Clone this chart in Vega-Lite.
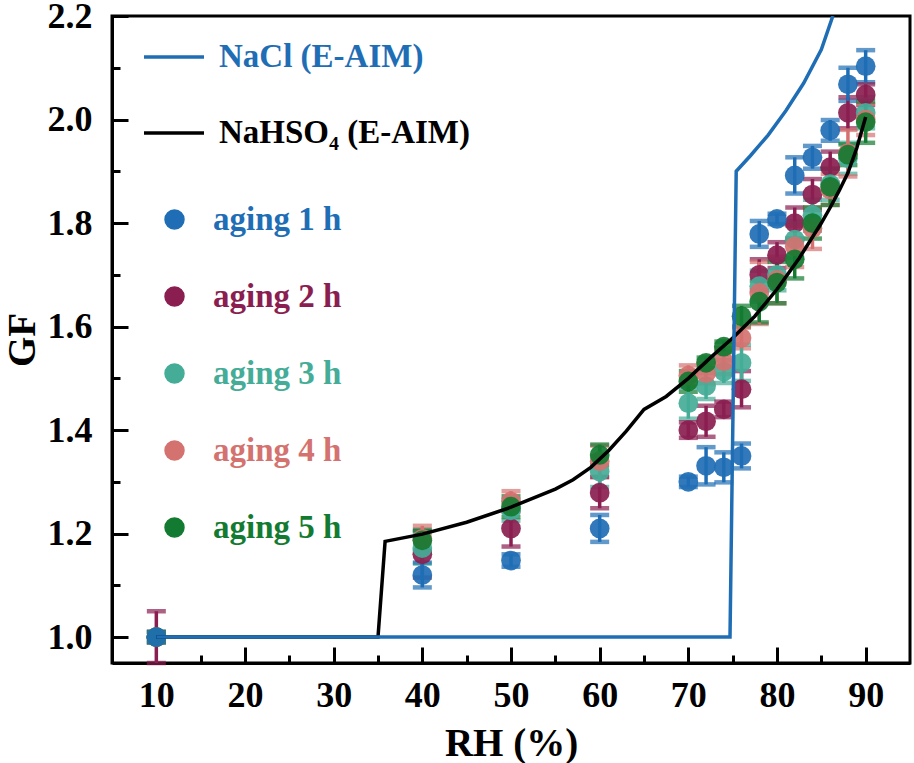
{
  "$schema": "https://vega.github.io/schema/vega-lite/v6.json",
  "width": 798,
  "height": 647,
  "autosize": {"type": "none"},
  "padding": {"left": 112, "top": 16, "right": 4, "bottom": 100},
  "config": {
    "font": "Liberation Serif",
    "view": {"stroke": "black", "strokeWidth": 3},
    "axis": {
      "grid": false,
      "domainColor": "black",
      "domainWidth": 3,
      "tickColor": "black",
      "tickWidth": 3,
      "labelFont": "Liberation Serif",
      "labelFontSize": 36,
      "labelFontWeight": "bold",
      "labelColor": "black",
      "labelOverlap": false,
      "labelFlush": false,
      "labelBound": false,
      "titleFont": "Liberation Serif",
      "titleFontSize": 39,
      "titleFontWeight": "bold",
      "titleColor": "black"
    },
    "legend": {
      "labelFont": "Liberation Serif",
      "labelFontSize": 33,
      "labelFontWeight": "bold",
      "labelLimit": 600,
      "padding": 0
    }
  },
  "datasets": {
    "pts": [
      {"series": "aging 2 h", "RH": 10, "GF": 1.0, "err": 0.05},
      {"series": "aging 2 h", "RH": 40, "GF": 1.16, "err": 0.045},
      {"series": "aging 2 h", "RH": 50, "GF": 1.21, "err": 0.035},
      {"series": "aging 2 h", "RH": 60, "GF": 1.279, "err": 0.03},
      {"series": "aging 2 h", "RH": 70, "GF": 1.40, "err": 0.015},
      {"series": "aging 2 h", "RH": 72, "GF": 1.417, "err": 0.03},
      {"series": "aging 2 h", "RH": 74, "GF": 1.44, "err": 0.015},
      {"series": "aging 2 h", "RH": 76, "GF": 1.479, "err": 0.035},
      {"series": "aging 2 h", "RH": 78, "GF": 1.70, "err": 0.03},
      {"series": "aging 2 h", "RH": 80, "GF": 1.738, "err": 0.025},
      {"series": "aging 2 h", "RH": 82, "GF": 1.80, "err": 0.03},
      {"series": "aging 2 h", "RH": 84, "GF": 1.855, "err": 0.03},
      {"series": "aging 2 h", "RH": 86, "GF": 1.908, "err": 0.03},
      {"series": "aging 2 h", "RH": 88, "GF": 2.013, "err": 0.03},
      {"series": "aging 2 h", "RH": 90, "GF": 2.048, "err": 0.02},
      {"series": "aging 3 h", "RH": 10, "GF": 1.0, "err": 0.01},
      {"series": "aging 3 h", "RH": 40, "GF": 1.172, "err": 0.03},
      {"series": "aging 3 h", "RH": 50, "GF": 1.245, "err": 0.02},
      {"series": "aging 3 h", "RH": 60, "GF": 1.32, "err": 0.03},
      {"series": "aging 3 h", "RH": 70, "GF": 1.452, "err": 0.03},
      {"series": "aging 3 h", "RH": 72, "GF": 1.485, "err": 0.025},
      {"series": "aging 3 h", "RH": 74, "GF": 1.513, "err": 0.022},
      {"series": "aging 3 h", "RH": 76, "GF": 1.53, "err": 0.035},
      {"series": "aging 3 h", "RH": 78, "GF": 1.678, "err": 0.03},
      {"series": "aging 3 h", "RH": 80, "GF": 1.70, "err": 0.03},
      {"series": "aging 3 h", "RH": 82, "GF": 1.768, "err": 0.035},
      {"series": "aging 3 h", "RH": 84, "GF": 1.815, "err": 0.03},
      {"series": "aging 3 h", "RH": 86, "GF": 1.875, "err": 0.03},
      {"series": "aging 3 h", "RH": 88, "GF": 1.925, "err": 0.03},
      {"series": "aging 3 h", "RH": 90, "GF": 2.013, "err": 0.03},
      {"series": "aging 4 h", "RH": 10, "GF": 1.0, "err": 0.01},
      {"series": "aging 4 h", "RH": 40, "GF": 1.19, "err": 0.025},
      {"series": "aging 4 h", "RH": 50, "GF": 1.262, "err": 0.02},
      {"series": "aging 4 h", "RH": 60, "GF": 1.34, "err": 0.03},
      {"series": "aging 4 h", "RH": 70, "GF": 1.505, "err": 0.02},
      {"series": "aging 4 h", "RH": 72, "GF": 1.51, "err": 0.02},
      {"series": "aging 4 h", "RH": 74, "GF": 1.533, "err": 0.025},
      {"series": "aging 4 h", "RH": 76, "GF": 1.578, "err": 0.02},
      {"series": "aging 4 h", "RH": 78, "GF": 1.665, "err": 0.06},
      {"series": "aging 4 h", "RH": 80, "GF": 1.69, "err": 0.045},
      {"series": "aging 4 h", "RH": 82, "GF": 1.755, "err": 0.04},
      {"series": "aging 4 h", "RH": 84, "GF": 1.79, "err": 0.04},
      {"series": "aging 4 h", "RH": 86, "GF": 1.865, "err": 0.03},
      {"series": "aging 4 h", "RH": 88, "GF": 1.935, "err": 0.045},
      {"series": "aging 4 h", "RH": 90, "GF": 2.0, "err": 0.03},
      {"series": "aging 5 h", "RH": 10, "GF": 1.0, "err": 0.01},
      {"series": "aging 5 h", "RH": 40, "GF": 1.187, "err": 0.02},
      {"series": "aging 5 h", "RH": 50, "GF": 1.252, "err": 0.02},
      {"series": "aging 5 h", "RH": 60, "GF": 1.352, "err": 0.02},
      {"series": "aging 5 h", "RH": 70, "GF": 1.494, "err": 0.02},
      {"series": "aging 5 h", "RH": 72, "GF": 1.53, "err": 0.01},
      {"series": "aging 5 h", "RH": 74, "GF": 1.561, "err": 0.01},
      {"series": "aging 5 h", "RH": 76, "GF": 1.62, "err": 0.02},
      {"series": "aging 5 h", "RH": 78, "GF": 1.648, "err": 0.04},
      {"series": "aging 5 h", "RH": 80, "GF": 1.685, "err": 0.04},
      {"series": "aging 5 h", "RH": 82, "GF": 1.73, "err": 0.037},
      {"series": "aging 5 h", "RH": 84, "GF": 1.80, "err": 0.03},
      {"series": "aging 5 h", "RH": 86, "GF": 1.87, "err": 0.035},
      {"series": "aging 5 h", "RH": 88, "GF": 1.932, "err": 0.02},
      {"series": "aging 5 h", "RH": 90, "GF": 1.995, "err": 0.04},
      {"series": "aging 1 h", "RH": 10, "GF": 1.0, "err": 0.01},
      {"series": "aging 1 h", "RH": 40, "GF": 1.12, "err": 0.024},
      {"series": "aging 1 h", "RH": 50, "GF": 1.148, "err": 0.012},
      {"series": "aging 1 h", "RH": 60, "GF": 1.21, "err": 0.026},
      {"series": "aging 1 h", "RH": 70, "GF": 1.30, "err": 0.01},
      {"series": "aging 1 h", "RH": 72, "GF": 1.331, "err": 0.036},
      {"series": "aging 1 h", "RH": 74, "GF": 1.328, "err": 0.029},
      {"series": "aging 1 h", "RH": 76, "GF": 1.35, "err": 0.024},
      {"series": "aging 1 h", "RH": 78, "GF": 1.779, "err": 0.025},
      {"series": "aging 1 h", "RH": 80, "GF": 1.808, "err": 0.01},
      {"series": "aging 1 h", "RH": 82, "GF": 1.892, "err": 0.035},
      {"series": "aging 1 h", "RH": 84, "GF": 1.927, "err": 0.022},
      {"series": "aging 1 h", "RH": 86, "GF": 1.979, "err": 0.02},
      {"series": "aging 1 h", "RH": 88, "GF": 2.068, "err": 0.032},
      {"series": "aging 1 h", "RH": 90, "GF": 2.103, "err": 0.031}
    ],
    "hso4": [
      {"model": "NaHSO₄ (E-AIM)", "RH": 10, "GF": 1.0},
      {"model": "NaHSO₄ (E-AIM)", "RH": 35, "GF": 1.0},
      {"model": "NaHSO₄ (E-AIM)", "RH": 35.8, "GF": 1.185},
      {"model": "NaHSO₄ (E-AIM)", "RH": 40, "GF": 1.199},
      {"model": "NaHSO₄ (E-AIM)", "RH": 45, "GF": 1.222},
      {"model": "NaHSO₄ (E-AIM)", "RH": 50, "GF": 1.251},
      {"model": "NaHSO₄ (E-AIM)", "RH": 55, "GF": 1.286},
      {"model": "NaHSO₄ (E-AIM)", "RH": 57, "GF": 1.304},
      {"model": "NaHSO₄ (E-AIM)", "RH": 59, "GF": 1.328},
      {"model": "NaHSO₄ (E-AIM)", "RH": 61, "GF": 1.36},
      {"model": "NaHSO₄ (E-AIM)", "RH": 63, "GF": 1.398},
      {"model": "NaHSO₄ (E-AIM)", "RH": 65, "GF": 1.44},
      {"model": "NaHSO₄ (E-AIM)", "RH": 67.5, "GF": 1.465},
      {"model": "NaHSO₄ (E-AIM)", "RH": 70, "GF": 1.50},
      {"model": "NaHSO₄ (E-AIM)", "RH": 72.5, "GF": 1.54},
      {"model": "NaHSO₄ (E-AIM)", "RH": 75, "GF": 1.578},
      {"model": "NaHSO₄ (E-AIM)", "RH": 77.5, "GF": 1.62},
      {"model": "NaHSO₄ (E-AIM)", "RH": 80, "GF": 1.672},
      {"model": "NaHSO₄ (E-AIM)", "RH": 82.5, "GF": 1.732},
      {"model": "NaHSO₄ (E-AIM)", "RH": 85, "GF": 1.80},
      {"model": "NaHSO₄ (E-AIM)", "RH": 86, "GF": 1.83},
      {"model": "NaHSO₄ (E-AIM)", "RH": 87, "GF": 1.862},
      {"model": "NaHSO₄ (E-AIM)", "RH": 88, "GF": 1.897},
      {"model": "NaHSO₄ (E-AIM)", "RH": 89, "GF": 1.945},
      {"model": "NaHSO₄ (E-AIM)", "RH": 90, "GF": 2.005}
    ],
    "nacl": [
      {"model": "NaCl (E-AIM)", "RH": 10, "GF": 1.0},
      {"model": "NaCl (E-AIM)", "RH": 74.7, "GF": 1.0},
      {"model": "NaCl (E-AIM)", "RH": 75.4, "GF": 1.9},
      {"model": "NaCl (E-AIM)", "RH": 77, "GF": 1.93},
      {"model": "NaCl (E-AIM)", "RH": 79, "GF": 1.97},
      {"model": "NaCl (E-AIM)", "RH": 81, "GF": 2.017},
      {"model": "NaCl (E-AIM)", "RH": 83, "GF": 2.07},
      {"model": "NaCl (E-AIM)", "RH": 85, "GF": 2.135},
      {"model": "NaCl (E-AIM)", "RH": 86.3, "GF": 2.2}
    ]
  },
  "encoding": {
    "x": {
      "field": "RH",
      "type": "quantitative",
      "scale": {"domain": [5, 95], "nice": false, "zero": false},
      "axis": {
        "title": "RH (%)",
        "values": [10, 15, 20, 25, 30, 35, 40, 45, 50, 55, 60, 65, 70, 75, 80, 85, 90],
        "labelExpr": "datum.value % 10 === 0 ? datum.label : ''",
        "tickSize": {"condition": {"test": "datum.value % 10 === 0", "value": -16}, "value": -8},
        "labelPadding": 31,
        "titlePadding": 3
      }
    },
    "y": {
      "field": "GF",
      "type": "quantitative",
      "scale": {"domain": [0.95, 2.2], "nice": false, "zero": false},
      "axis": {
        "title": "GF",
        "values": [1, 1.1, 1.2, 1.3, 1.4, 1.5, 1.6, 1.7, 1.8, 1.9, 2, 2.1, 2.2],
        "labelExpr": "abs(datum.value * 5 - round(datum.value * 5)) < 0.001 ? format(datum.value, '.1f') : ''",
        "tickSize": {"condition": {"test": "abs(datum.value * 5 - round(datum.value * 5)) < 0.001", "value": -16}, "value": -8},
        "labelPadding": 36,
        "titlePadding": 5
      }
    }
  },
  "layer": [
    {
      "data": {"name": "pts"},
      "mark": {"type": "errorbar", "thickness": 3.5, "ticks": {"size": 19, "thickness": 4.5}},
      "encoding": {
        "yError": {"field": "err"},
        "color": {"field": "series", "type": "nominal"}
      }
    },
    {
      "data": {"name": "pts"},
      "mark": {"type": "point", "filled": true, "size": 390, "opacity": 0.92, "shape": "circle"},
      "encoding": {
        "color": {
          "field": "series",
          "type": "nominal",
          "scale": {
            "domain": ["aging 1 h", "aging 2 h", "aging 3 h", "aging 4 h", "aging 5 h"],
            "range": ["#1f6eb5", "#8a1e50", "#44ac97", "#d47270", "#137b31"]
          },
          "legend": {
            "title": null,
            "orient": "none",
            "legendX": 46,
            "legendY": 187,
            "symbolType": "circle",
            "symbolSize": 360,
            "symbolOpacity": 1,
            "labelOffset": 22,
            "rowPadding": 43,
            "encode": {"labels": {"update": {"fill": {"scale": "color", "field": "value"}}}}
          }
        }
      }
    },
    {
      "data": {"name": "hso4"},
      "mark": {"type": "line", "strokeWidth": 3.5, "clip": true},
      "encoding": {
        "stroke": {
          "field": "model",
          "type": "nominal",
          "scale": {"domain": ["NaCl (E-AIM)", "NaHSO₄ (E-AIM)"], "range": ["#1f6eb5", "black"]},
          "legend": {
            "title": null,
            "orient": "none",
            "legendX": 30,
            "legendY": 9,
            "symbolType": "stroke",
            "symbolSize": 3600,
            "symbolStrokeWidth": 3.5,
            "labelOffset": 13,
            "rowPadding": 27,
            "encode": {"labels": {"update": {"fill": {"scale": "stroke", "field": "value"}}}}
          }
        }
      }
    },
    {
      "data": {"name": "nacl"},
      "mark": {"type": "line", "strokeWidth": 3.5, "clip": true},
      "encoding": {
        "stroke": {"field": "model", "type": "nominal"}
      }
    }
  ]
}
